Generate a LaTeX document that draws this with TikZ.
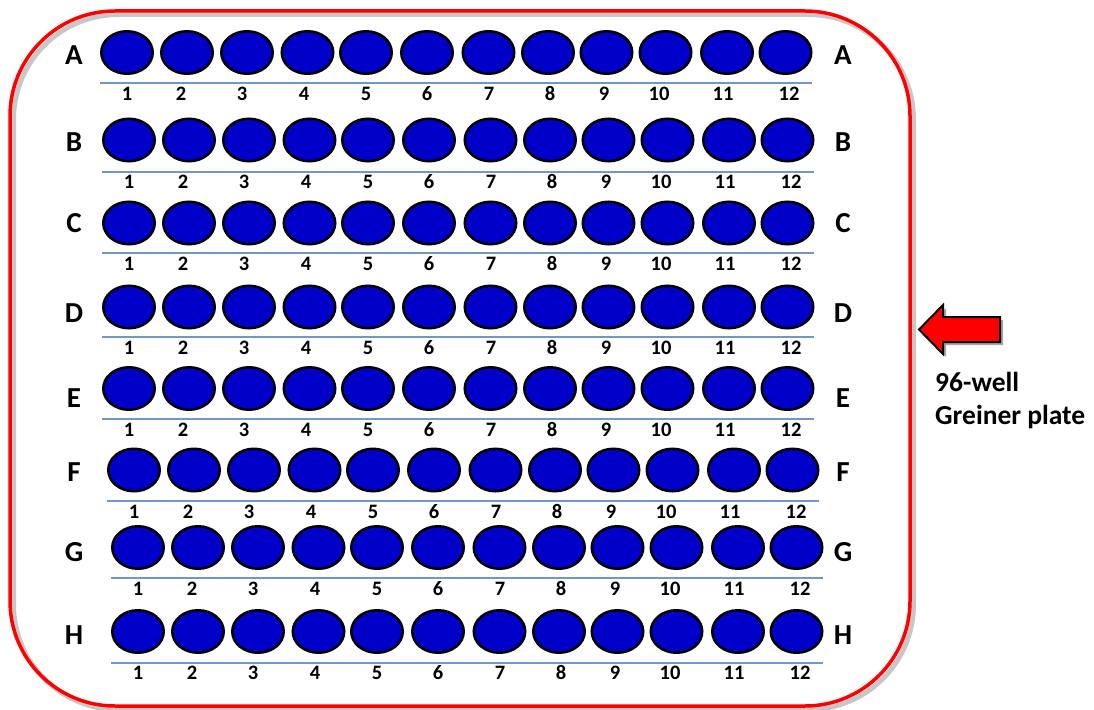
\documentclass[tikz,border=0pt]{standalone}
\usepackage{fontspec}
\setmainfont{Carlito}[Numbers=Lining]
\usetikzlibrary{shapes.geometric}
\definecolor{wellblue}{RGB}{0,0,200}
\definecolor{linecol}{RGB}{115,150,200}
\definecolor{platered}{RGB}{255,0,0}
\begin{document}
\begin{tikzpicture}[x=1pt,y=-1pt,
  well/.style={ellipse, draw=black, line width=2.5pt, fill=wellblue,
    minimum width=51.5pt, minimum height=42.5pt, inner sep=0pt},
  rowline/.style={draw=linecol, line width=1.5pt},
  rowlab/.style={inner sep=0pt, anchor=base, font=\fontsize{29}{29}\selectfont\bfseries},
  numlab/.style={inner sep=0pt, anchor=base, font=\fontsize{20.5}{20.5}\selectfont\bfseries},
  caption/.style={inner sep=0pt, anchor=base west, font=\fontsize{27.5}{27.5}\selectfont\bfseries},
  plate/.style={draw=platered, line width=3.5pt, rounded corners=105pt},
  plateshadow/.style={draw=black, opacity=0.22, line width=5pt, rounded corners=105pt},
  bigarrow/.style={fill=platered, draw=black, line width=2pt, line join=miter},
  arrowshadow/.style={fill=black, opacity=0.35}]
\useasboundingbox (0,0) rectangle (1094,709);
% plate outline with shadow
\draw[plateshadow] (13.5,14.5) rectangle (913.5,709.5);
\draw[plate] (10,11) rectangle (910,706);
% rows
\foreach \r/\wy/\ly/\ny/\laby/\dx in {
  A/52.5/83/94/55/0, B/140/172/182/142/2, C/223/253/264/223/2,
  D/307/337/348/313/2, E/388.5/419/430/398/2, F/470/501/512/472/7,
  G/547.5/578/589/552/11, H/631.5/663/673/635/11}{
  \node[rowlab] (L\r) at (74,{\laby+9.3}) {\r};
  \node[rowlab] (R\r) at (843,{\laby+9.3}) {\r};
  \coordinate (\r-ls) at ({\dx+100},\ly);
  \coordinate (\r-le) at ({\dx+812},\ly);
  \draw[rowline] (\r-ls) -- (\r-le);
  \foreach \c/\cx/\nx in {1/127/127, 2/187/181, 3/247/242, 4/307.5/304,
    5/366/366, 6/427/427, 7/488.5/489, 8/548/550, 9/606.5/604,
    10/665.5/659, 11/727/723, 12/785.5/789}{
    \node[well] (\r\c) at ({\cx+\dx},\wy) {};
    \node[numlab] (n\r\c) at ({\nx+\dx},{\ny+6.5}) {\c};
  }
}
% arrow
\begin{scope}[shift={(3,3)}]
\fill[arrowshadow] (919,329.5) -- (943,305) -- (943,317) -- (1000,317) -- (1000,342) -- (943,342) -- (943,354) -- cycle;
\end{scope}
\draw[bigarrow] (919,329.5) -- (943,305) -- (943,317) -- (1000,317) -- (1000,342) -- (943,342) -- (943,354) -- cycle;
\node[caption] (cap1) at (935,391) {96-well};
\node[caption] (cap2) at (935,424) {Greiner plate};
\end{tikzpicture}
\end{document}
